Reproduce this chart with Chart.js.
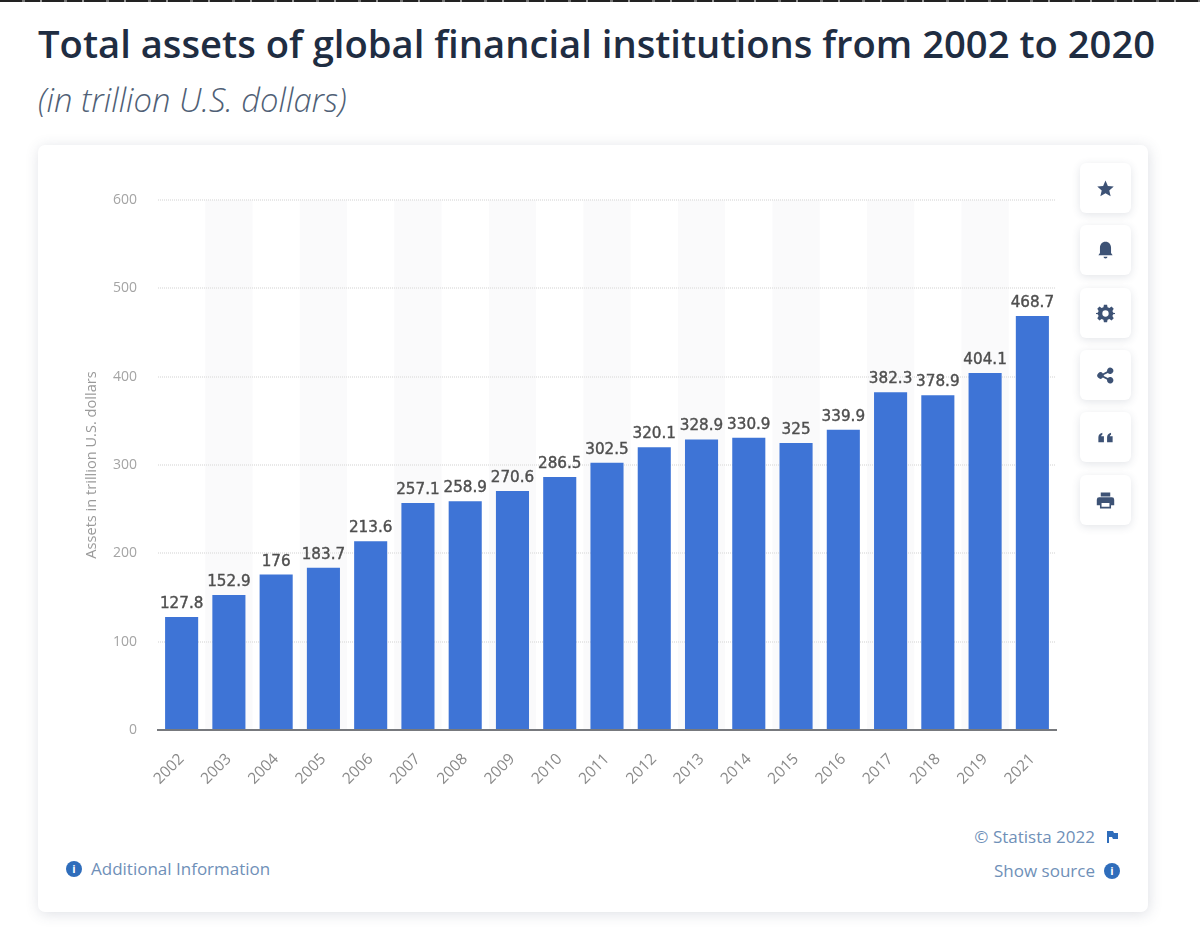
<!DOCTYPE html>
<html>
<head>
<meta charset="utf-8">
<title>Total assets of global financial institutions</title>
<script src="https://cdn.jsdelivr.net/npm/chart.js@4"></script>
<style>
  html, body { margin: 0; padding: 0; background: #fff; width: 1200px; height: 945px; overflow: hidden; }
  body { position: relative; font-family: "Open Sans", sans-serif; }
  .topedge { position: absolute; left: 0; top: 0; width: 1200px; height: 2px;
    background: repeating-linear-gradient(90deg, #222 0 22px, #777 22px 25px, #222 25px 40px, #999 40px 42px); }
  h1 { position: absolute; left: 38px; top: 17px; margin: 0; font-size: 38.2px; line-height: 52px; font-weight: 600; color: #1f2d42; white-space: nowrap; }
  .sub { position: absolute; left: 38px; top: 79px; font-size: 32.8px; line-height: 42px; font-style: italic; font-weight: 300; color: #505f76; white-space: nowrap; }
  .card { position: absolute; left: 38px; top: 145px; width: 1110px; height: 767px; background: #fff; border-radius: 7px;
    box-shadow: 1px 2px 14px rgba(60, 70, 100, .17); }
  canvas { position: absolute; left: 40px; top: 160px; }
  .btn { position: absolute; left: 1080px; width: 51px; height: 50px; background: #fff; border-radius: 6px;
    box-shadow: 0 2px 8px rgba(60, 70, 100, .14); display: flex; align-items: center; justify-content: center; }
  .btn svg { width: 19px; height: 19px; fill: #3d5275; }
  .link { position: absolute; font-size: 17px; line-height: 22px; color: #6f90b8; white-space: nowrap; }
  .dot { position: absolute; width: 16px; height: 16px; border-radius: 50%; background: #2f6dbb; color: #fff;
    font: bold 11px/16px "Open Sans", sans-serif; text-align: center; }
</style>
</head>
<body>
<div class="topedge"></div>
<h1>Total assets of global financial institutions from 2002 to 2020</h1>
<div class="sub">(in trillion U.S. dollars)</div>
<div class="card"></div>
<canvas id="grafico" width="1030" height="640"></canvas>

<div class="btn" style="top:163px"><svg viewBox="0 0 24 24"><path d="M12 2l3 6.900 7.400.7-5.600 4.900 1.700 7.300L12 17.900l-6.500 3.900 1.700-7.300L1.600 9.600 9 8.900z"/></svg></div>
<div class="btn" style="top:225px"><svg viewBox="0 0 24 24"><path d="M12 1c4.400 0 7 3.400 7 7.500V15l2 3H3l2-3V8.500C5 4.400 7.600 1 12 1zM9.500 20h5a2.500 2 0 0 1-5 0z"/></svg></div>
<div class="btn" style="top:288px"><svg viewBox="0 0 24 24"><path fill-rule="evenodd" d="M10 1h4l.6 3 2.400 1 2.600-1.700 2.800 2.800L20.700 8.700l1 2.300 3 .6v.8l-3 .6-1 2.300 1.700 2.600-2.800 2.800-2.600-1.700-2.400 1-.6 3h-4l-.6-3-2.400-1-2.600 1.700-2.800-2.800 1.700-2.600-1-2.300-3-.6v-.8l3-.6 1-2.300L1.600 6.100l2.800-2.800L7 5l2.400-1zM12 8a4 4 0 1 0 0 8 4 4 0 0 0 0-8z"/></svg></div>
<div class="btn" style="top:350px"><svg viewBox="0 0 24 24"><path d="M18 2a4 4 0 1 1-3 6.700L9.800 11.300a4 4 0 0 1 0 1.400L15 15.300a4 4 0 1 1-1 2l-5.300-2.700a4 4 0 1 1 0-5.200L14 6.700A4 4 0 0 1 18 2z"/></svg></div>
<div class="btn" style="top:412px"><svg viewBox="0 0 24 24"><path d="M3 12c0-3 1.500-5 5-6v2.500c-1 .5-1.500 1-1.500 2H10V18H3zM14 12c0-3 1.500-5 5-6v2.500c-1 .5-1.500 1-1.500 2H21V18h-7z"/></svg></div>
<div class="btn" style="top:475px"><svg viewBox="0 0 24 24"><path fill-rule="evenodd" d="M6 2h12v5H6zM4 8h16a3 3 0 0 1 3 3v7h-4v4H5v-4H1v-7a3 3 0 0 1 3-3zM7 15v5h10v-5z"/></svg></div>

<div class="dot" style="left:66px;top:861px">i</div>
<div class="link" style="left:91px;top:858px">Additional Information</div>
<div class="link" style="right:105px;top:826px">© Statista 2022</div>
<svg style="position:absolute;left:1107px;top:831px" width="11" height="12" viewBox="0 0 11 12"><path fill="#2f6dbb" d="M0 0h6l1 2h4v6H6L5 6H2v6H0z"/></svg>
<div class="link" style="right:105px;top:860px">Show source</div>
<div class="dot" style="left:1104px;top:863px">i</div>

<script>
// Data
const anios = ['2002', '2003', '2004', '2005', '2006', '2007', '2008', '2009', '2010', '2011', '2012', '2013', '2014', '2015', '2016', '2017', '2018', '2019', '2021'];
const activos = [127.8, 152.9, 176, 183.7, 213.6, 257.1, 258.9, 270.6, 286.5, 302.5, 320.1, 328.9, 330.9, 325, 339.9, 382.3, 378.9, 404.1, 468.7];
const tituloEjeY = 'Assets in trillion U.S. dollars';

// Grey band behind every second category
const bandas = {
    id: 'bandas',
    beforeDraw(chart) {
        const { ctx, chartArea, scales } = chart;
        const ancho = scales.x.getPixelForValue(1) - scales.x.getPixelForValue(0);
        ctx.save();
        ctx.fillStyle = '#fafafb';
        anios.forEach((a, i) => {
            if (i % 2 === 1) {
                ctx.fillRect(scales.x.getPixelForValue(i) - ancho / 2, chartArea.top, ancho, chartArea.height);
            }
        });
        ctx.restore();
    }
};

// Value labels on top of the bars
const etiquetas = {
    id: 'etiquetas',
    afterDatasetsDraw(chart) {
        const { ctx } = chart;
        ctx.save();
        ctx.font = '15.2px "DejaVu Sans"';
        ctx.fillStyle = '#4f4f4f';
        ctx.strokeStyle = '#4f4f4f';
        ctx.lineWidth = 0.4;
        ctx.textAlign = 'center';
        ctx.textBaseline = 'alphabetic';
        chart.getDatasetMeta(0).data.forEach((barra, i) => {
            ctx.fillText(String(activos[i]), barra.x, barra.y - 9);
            ctx.strokeText(String(activos[i]), barra.x, barra.y - 9);
        });
        ctx.restore();
    }
};

new Chart(document.getElementById('grafico'), {
    type: 'bar',
    data: {
        labels: anios,
        datasets: [{
            data: activos,
            backgroundColor: '#3e74d6',
            barPercentage: 0.7,
            categoryPercentage: 1,
        }],
    },
    options: {
        responsive: false,
        animation: false,
        layout: { padding: { top: 40, right: 14, left: 0, bottom: 0 } },
        plugins: { legend: { display: false }, tooltip: { enabled: false } },
        scales: {
            x: {
                grid: { display: false, drawTicks: false },
                border: { color: '#77797d', width: 2, z: 1 },
                ticks: {
                    autoSkip: false, minRotation: 45, maxRotation: 45, padding: 20,
                    color: '#8a8a8a', font: { family: 'Open Sans', size: 15.5 },
                },
                afterFit(escala) { escala.height = 70; },
            },
            y: {
                min: 0, max: 600,
                grid: { color: '#e8e8e8', drawTicks: false, lineWidth: 2 },
                border: { display: false, dash: [1, 1] },
                ticks: {
                    stepSize: 100, padding: 21,
                    color: '#a4a4a4', font: { family: 'Open Sans', size: 14 },
                },
                title: {
                    display: true, text: tituloEjeY, color: '#9a9a9a',
                    font: { family: 'Open Sans', size: 14.6 }, padding: { top: 43, bottom: 0 },
                },
                afterFit(escala) { escala.width = 118; },
            },
        },
    },
    plugins: [bandas, etiquetas],
});
</script>
</body>
</html>
